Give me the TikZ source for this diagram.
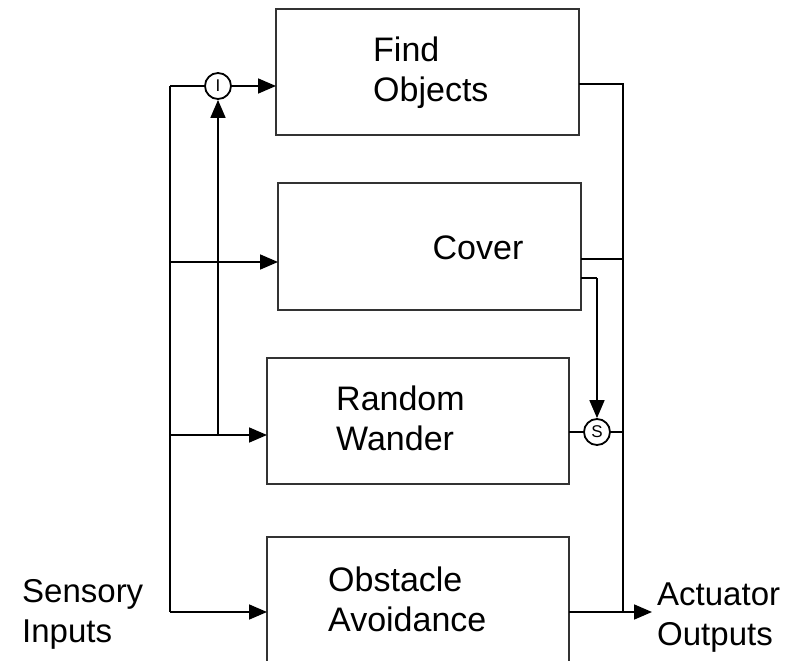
\documentclass[tikz,border=0pt]{standalone}
\usepackage{fontspec}
\setmainfont{Liberation Sans}
\usetikzlibrary{arrows.meta}
\begin{document}
\begin{tikzpicture}[x=1pt,y=-1pt,
  box/.style={draw=black!80,line width=1.6pt,inner sep=0pt,outer sep=0pt},
  lbl/.style={inner sep=0pt,align=left,font=\fontsize{33}{40}\selectfont},
  boxlbl/.style={lbl,font=\fontsize{34}{40}\selectfont},
  wire/.style={line width=1.7pt,black},
  arr/.style={wire,-{Triangle[length=18pt,width=15pt]}},
  gate/.style={circle,draw,line width=1.8pt,minimum size=26pt,inner sep=0pt,
               font=\fontsize{17}{17}\selectfont,fill=white}]
\useasboundingbox (0,0) rectangle (798,661);
\clip (0,0) rectangle (798,661);

% behaviour boxes
\node[box,minimum width=303pt,minimum height=126pt] (find) at (427.5,72) {};
\node[box,minimum width=303pt,minimum height=127pt] (cover) at (429.5,246.5) {};
\node[box,minimum width=302pt,minimum height=126pt] (rw) at (418,421) {};
\node[box,minimum width=302pt,minimum height=150pt] (oa) at (418,612) {};

% box captions
\node[boxlbl,anchor=west] (findtxt) at (373,73) {Find\\Objects};
\node[boxlbl] (covertxt) at (478,248) {Cover};
\node[boxlbl,anchor=west] (rwtxt) at (336,418) {Random\\Wander};
\node[boxlbl,anchor=west] (oatxt) at (328,599) {Obstacle\\Avoidance};

% side captions
\node[lbl,anchor=west] (sens) at (22,614) {Sensory\\Inputs};
\node[lbl,anchor=west] (act) at (657,618) {Actuator\\Outputs};

% inhibitor and suppressor
\node[gate] (inh) at (218,86) {I};
\node[gate] (sup) at (597,432) {S};

% input bus
\coordinate (busTop) at (170,86);
\coordinate (busCov) at (170,262);
\coordinate (busRw) at (170,435);
\coordinate (busOa) at (170,612);
\coordinate (tap) at (218,435);
\draw[wire] (busTop) -- (busOa);
\draw[wire] (busTop) -- (inh.west);
\draw[arr] (inh.east) -- (find.west |- inh);
\draw[arr] (busCov) -- (cover.west |- busCov);
\draw[arr] (busRw) -- (rw.west |- busRw);
\draw[arr] (busOa) -- (oa.west |- busOa);
\draw[arr] (tap) -- (inh.south);

% output wiring
\coordinate (fOut) at (623,84);
\coordinate (merge) at (623,259);
\coordinate (cTap) at (597,278);
\coordinate (sOut) at (623,432);
\coordinate (outEnd) at (623,612);
\coordinate (actTip) at (652,612);
\draw[wire] (find.east |- fOut) -- (fOut) -- (merge);
\draw[wire] (cover.east |- merge) -- (merge) -- (outEnd);
\draw[wire] (cover.east |- cTap) -- (cTap);
\draw[arr] (cTap) -- (sup.north);
\draw[wire] (rw.east |- sup) -- (sup.west);
\draw[wire] (sup.east) -- (sOut);
\draw[arr] (oa.east |- outEnd) -- (actTip);
\end{tikzpicture}
\end{document}
